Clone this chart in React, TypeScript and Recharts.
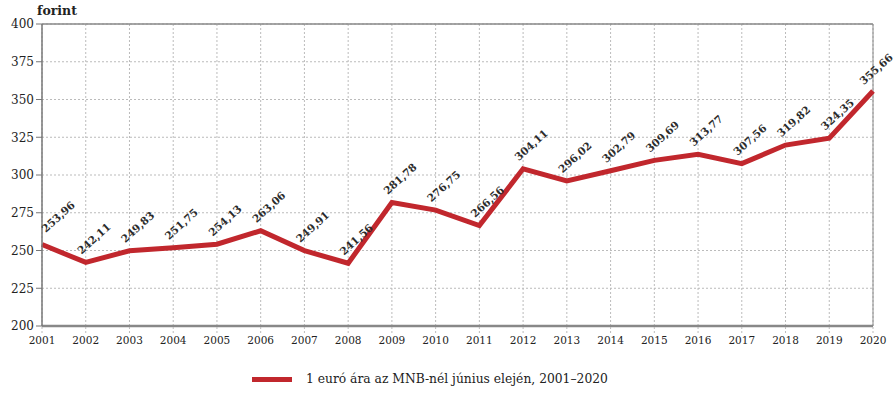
import { LineChart, Line, XAxis, YAxis, CartesianGrid, ReferenceLine, LabelList } from "recharts";

document.body.style.margin = "0";

const years = ["2001", "2002", "2003", "2004", "2005", "2006", "2007", "2008", "2009", "2010",
  "2011", "2012", "2013", "2014", "2015", "2016", "2017", "2018", "2019", "2020"];
const euroPrice = [253.96, 242.11, 249.83, 251.75, 254.13, 263.06, 249.91, 241.56, 281.78, 276.75,
  266.56, 304.11, 296.02, 302.79, 309.69, 313.77, 307.56, 319.82, 324.35, 355.66];
const yTicks = [200, 225, 250, 275, 300, 325, 350, 375, 400];

const data = years.map((year, i) => ({ year, value: euroPrice[i] }));

const FONT = "'DejaVu Serif', serif";
const RED = "#c1272d";

const fmt = (v: number) => v.toFixed(2).replace(".", ",");

function PointLabel(props: any) {
  const { x, y, value, index } = props;
  // first and last labels are nudged so they stay inside the frame
  let dx = 8;
  let dy = 24;
  if (index === 0) {
    dx = 16;
    dy = 28;
  } else if (index === years.length - 1) {
    dx = 3;
    dy = 22;
  }
  const cx = x + dx;
  const cy = y - dy;
  return (
    <text
      x={cx}
      y={cy}
      transform={`rotate(-42, ${cx}, ${cy})`}
      fontFamily={FONT}
      fontSize={10.5}
      fontWeight="bold"
      fill="#2b2b2b"
      textAnchor="middle"
      dominantBaseline="central"
    >
      {fmt(value)}
    </text>
  );
}

export default function App() {
  return (
    <div style={{ position: "relative", width: 896, height: 408, background: "#fff", fontFamily: FONT }}>
      <div style={{ position: "absolute", left: 37, top: 3, fontSize: 12.5, fontWeight: "bold", color: "#222" }}>
        forint
      </div>
      <LineChart width={896} height={360} data={data} margin={{ top: 24, right: 23, left: 0, bottom: 4 }}>
        <CartesianGrid stroke="#bbb" strokeDasharray="2 2" horizontal vertical />
        <XAxis
          dataKey="year"
          interval={0}
          height={30}
          axisLine={{ stroke: "#888", strokeWidth: 2.5 }}
          tickLine={{ stroke: "#bbb", strokeDasharray: "2 2" }}
          tickSize={7}
          tick={{ fontFamily: FONT, fontSize: 10.5, fill: "#222", dy: 2 }}
        />
        <YAxis
          domain={[200, 400]}
          ticks={yTicks}
          width={42}
          axisLine={{ stroke: "#777", strokeWidth: 1.5 }}
          tickLine={{ stroke: "#777" }}
          tickSize={6}
          tick={{ fontFamily: FONT, fontSize: 12, fill: "#222" }}
        />
        <ReferenceLine y={400} stroke="#888" strokeWidth={1.5} />
        <ReferenceLine x="2020" stroke="#888" strokeWidth={1} />
        <Line
          type="linear"
          dataKey="value"
          stroke={RED}
          strokeWidth={5}
          dot={false}
          isAnimationActive={false}
        >
          <LabelList dataKey="value" content={PointLabel} />
        </Line>
      </LineChart>
      <div style={{ position: "absolute", left: 252, top: 372, display: "flex", alignItems: "center", fontSize: 12.3, color: "#222" }}>
        <div style={{ width: 40, height: 5, background: RED, marginRight: 14 }} />
        <span>1 euró ára az MNB-nél június elején, 2001–2020</span>
      </div>
    </div>
  );
}
